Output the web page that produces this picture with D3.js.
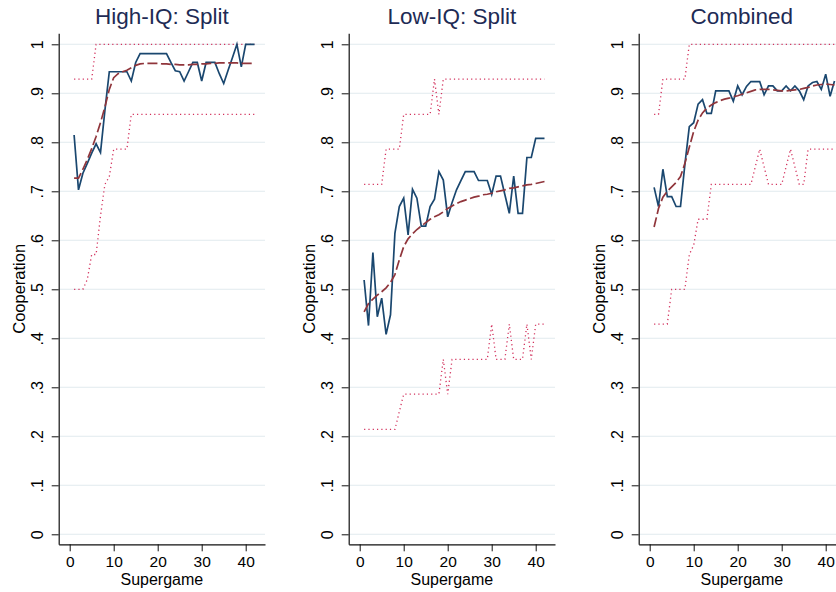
<!DOCTYPE html>
<html>
<head>
<meta charset="utf-8">
<script src="https://cdn.jsdelivr.net/npm/d3@7"></script>
<style>
  html, body { margin: 0; padding: 0; background: #fff; }
  svg { display: block; }
  text { font-family: "Liberation Sans", Arial, sans-serif; }
</style>
</head>
<body>
<svg id="chart" width="836" height="592"></svg>
<script>
// ---------------- DATA ----------------
const supergame = [1,2,3,4,5,6,7,8,9,10,11,12,13,14,15,16,17,18,19,20,21,
                   22,23,24,25,26,27,28,29,30,31,32,33,34,35,36,37,38,39,40,41,42];

const panelTitles = ["High-IQ: Split", "Low-IQ: Split", "Combined"];

// High-IQ: Split
const highCoop  = [0.815,0.703,0.737,0.757,0.778,0.797,0.779,0.865,0.944,0.944,0.944,0.944,0.944,0.925,0.963,0.981,0.981,0.981,0.981,0.981,0.981,
                   0.981,0.963,0.946,0.944,0.925,0.944,0.963,0.963,0.925,0.963,0.963,0.963,0.940,0.920,0.947,0.973,1.000,0.954,1.000,1.000,1.000];
const highFit   = [0.727,0.727,0.745,0.765,0.787,0.812,0.840,0.872,0.908,0.932,0.940,0.944,0.947,0.952,0.957,0.960,0.961,0.961,0.961,0.961,0.960,
                   0.960,0.959,0.959,0.958,0.958,0.958,0.959,0.959,0.960,0.960,0.961,0.961,0.962,0.962,0.962,0.962,0.962,0.961,0.961,0.961,0.961];
const highUpper = [0.929,0.929,0.929,0.929,0.929,1,1,1,1,1,1,1,1,1,1,1,1,1,1,1,1,
                   1,1,1,1,1,1,1,1,1,1,1,1,1,1,1,1,1,1,1,1,1];
const highLower = [0.5,0.5,0.5,0.52,0.571,0.571,0.65,0.714,0.73,0.786,0.786,0.786,0.786,0.857,0.857,0.857,0.857,0.857,0.857,0.857,0.857,
                   0.857,0.857,0.857,0.857,0.857,0.857,0.857,0.857,0.857,0.857,0.857,0.857,0.857,0.857,0.857,0.857,0.857,0.857,0.857,0.857,0.857];

// Low-IQ: Split
const lowCoop  = [0.519,0.426,0.575,0.444,0.482,0.408,0.448,0.614,0.669,0.686,0.611,0.704,0.686,0.629,0.629,0.669,0.684,0.740,0.723,0.648,0.677,
                  0.703,0.722,0.740,0.740,0.740,0.722,0.722,0.722,0.694,0.731,0.731,0.693,0.655,0.731,0.655,0.655,0.769,0.769,0.808,0.808,0.808];
const lowFit   = [0.454,0.471,0.480,0.488,0.495,0.503,0.514,0.530,0.560,0.587,0.603,0.613,0.622,0.629,0.636,0.643,0.648,0.652,0.658,0.665,0.670,
                  0.675,0.679,0.682,0.685,0.688,0.690,0.693,0.694,0.696,0.699,0.701,0.703,0.706,0.707,0.709,0.711,0.713,0.714,0.716,0.718,0.720];
const lowUpper = [0.714,0.714,0.714,0.714,0.714,0.786,0.786,0.786,0.786,0.857,0.857,0.857,0.857,0.857,0.857,0.857,0.929,0.857,0.929,0.929,0.929,
                  0.929,0.929,0.929,0.929,0.929,0.929,0.929,0.929,0.929,0.929,0.929,0.929,0.929,0.929,0.929,0.929,0.929,0.929,0.929,0.929,0.929];
const lowLower = [0.214,0.214,0.214,0.214,0.214,0.214,0.214,0.214,0.25,0.286,0.286,0.286,0.286,0.286,0.286,0.286,0.286,0.286,0.357,0.286,0.357,
                  0.357,0.357,0.357,0.357,0.357,0.357,0.357,0.357,0.429,0.357,0.357,0.357,0.429,0.357,0.357,0.357,0.429,0.357,0.429,0.429,0.429];

// Combined
const combCoop  = [0.708,0.669,0.745,0.689,0.689,0.669,0.669,0.755,0.832,0.840,0.878,0.887,0.859,0.859,0.905,0.905,0.905,0.905,0.884,0.915,0.897,
                   0.914,0.924,0.924,0.924,0.897,0.915,0.915,0.905,0.905,0.915,0.905,0.915,0.905,0.887,0.915,0.922,0.924,0.908,0.939,0.894,0.925];
const combFit   = [0.627,0.665,0.688,0.700,0.709,0.718,0.730,0.757,0.790,0.822,0.845,0.860,0.870,0.876,0.881,0.885,0.888,0.890,0.893,0.895,0.898,
                   0.901,0.904,0.907,0.908,0.908,0.908,0.907,0.906,0.905,0.905,0.906,0.907,0.908,0.910,0.912,0.915,0.917,0.918,0.919,0.918,0.917];
const combUpper = [0.857,0.857,0.929,0.929,0.929,0.929,0.929,0.929,1,1,1,1,1,1,1,1,1,1,1,1,1,
                   1,1,1,1,1,1,1,1,1,1,1,1,1,1,1,1,1,1,1,1,1];
const combLower = [0.429,0.429,0.429,0.429,0.5,0.5,0.5,0.5,0.571,0.59,0.643,0.643,0.643,0.714,0.714,0.714,0.714,0.714,0.714,0.714,0.714,
                   0.714,0.714,0.75,0.786,0.75,0.714,0.714,0.714,0.714,0.75,0.786,0.75,0.714,0.714,0.786,0.786,0.786,0.786,0.786,0.786,0.786];

const yTicks = [0, 0.1, 0.2, 0.3, 0.4, 0.5, 0.6, 0.7, 0.8, 0.9, 1];
const yTickLabels = ["0", ".1", ".2", ".3", ".4", ".5", ".6", ".7", ".8", ".9", "1"];
const xTicks = [0, 10, 20, 30, 40];
const xTitle = "Supergame";
const yTitle = "Cooperation";

// ---------------- LAYOUT ----------------
const panels = [
  { title: panelTitles[0], coop: highCoop, fit: highFit, upper: highUpper, lower: highLower },
  { title: panelTitles[1], coop: lowCoop,  fit: lowFit,  upper: lowUpper,  lower: lowLower },
  { title: panelTitles[2], coop: combCoop, fit: combFit, upper: combUpper, lower: combLower }
];
const panelStep = 290;
const plotLeft = 58.7, plotRight = 265, plotTop = 33.3, plotBottom = 544.3;
const x0px = 69.7, pxPerUnit = 4.4;
const y0px = 534.3, y1px = 44.3;

const x = d3.scaleLinear()
  .domain([(plotLeft - x0px) / pxPerUnit, (plotRight - x0px) / pxPerUnit])
  .range([plotLeft, plotRight]);
const yPerUnit = y0px - y1px;
const y = d3.scaleLinear()
  .domain([(y0px - plotBottom) / yPerUnit, (y0px - plotTop) / yPerUnit])
  .range([plotBottom, plotTop]);

const svg = d3.select("#chart");
const COL_BLUE = "#1a476f", COL_RED = "#90353b", COL_CI = "#d2305c";

panels.forEach((p, i) => {
  const g = svg.append("g").attr("transform", `translate(${i * panelStep},0)`);

  // gridlines
  g.append("g").selectAll("line").data(yTicks).join("line")
    .attr("x1", plotLeft).attr("x2", plotRight)
    .attr("y1", d => y(d)).attr("y2", d => y(d))
    .attr("stroke", "#e1eaee").attr("stroke-width", 1.1);

  const line = d3.line().x((d, j) => x(supergame[j])).y(d => y(d));

  // confidence bounds (dotted)
  [p.upper, p.lower].forEach(arr => {
    g.append("path").datum(arr)
      .attr("d", line)
      .attr("fill", "none")
      .attr("stroke", COL_CI)
      .attr("stroke-width", 1.3)
      .attr("stroke-dasharray", "1.2,3.1");
  });

  // observed cooperation
  g.append("path").datum(p.coop)
    .attr("d", line)
    .attr("fill", "none")
    .attr("stroke", COL_BLUE)
    .attr("stroke-width", 1.7)
    .attr("stroke-linejoin", "miter");

  // fitted curve (dashed)
  g.append("path").datum(p.fit)
    .attr("d", line)
    .attr("fill", "none")
    .attr("stroke", COL_RED)
    .attr("stroke-width", 1.7)
    .attr("stroke-dasharray", "10,3.5");

  // y axis
  const yAxis = g.append("g")
    .attr("transform", `translate(${plotLeft},0)`)
    .call(d3.axisLeft(y).tickValues(yTicks)
      .tickFormat((d, j) => yTickLabels[j])
      .tickSize(7).tickSizeOuter(0));
  yAxis.select(".domain").attr("stroke", "#111").attr("stroke-width", 1.2);
  yAxis.selectAll(".tick line").attr("stroke", "#111").attr("stroke-width", 1);
  yAxis.selectAll(".tick text")
    .attr("x", 0).attr("y", -15.4).attr("dy", null)
    .attr("transform", "rotate(-90)")
    .attr("text-anchor", "middle")
    .attr("fill", "#000")
    .style("font-size", "16px")
    .style("font-family", "'Liberation Sans', Arial, sans-serif");

  // x axis
  const xAxis = g.append("g")
    .attr("transform", `translate(0,${plotBottom})`)
    .call(d3.axisBottom(x).tickValues(xTicks)
      .tickFormat(d3.format("d"))
      .tickSize(7).tickSizeOuter(0));
  xAxis.select(".domain").attr("stroke", "#111").attr("stroke-width", 1.2);
  xAxis.selectAll(".tick line").attr("stroke", "#111").attr("stroke-width", 1);
  xAxis.selectAll(".tick text")
    .attr("y", 22.5).attr("dy", null)
    .attr("fill", "#000")
    .style("font-size", "15.5px")
    .style("font-family", "'Liberation Sans', Arial, sans-serif");

  // titles
  g.append("text")
    .attr("x", (plotLeft + plotRight) / 2).attr("y", 23.5)
    .attr("text-anchor", "middle")
    .attr("fill", "#1e2b55")
    .style("font-size", "22.5px")
    .text(p.title);

  g.append("text")
    .attr("x", (plotLeft + plotRight) / 2).attr("y", 584.5)
    .attr("text-anchor", "middle")
    .attr("fill", "#000")
    .style("font-size", "16px")
    .text(xTitle);

  g.append("text")
    .attr("transform", `translate(25,${(plotTop + plotBottom) / 2}) rotate(-90)`)
    .attr("text-anchor", "middle")
    .attr("fill", "#000")
    .style("font-size", "16.5px")
    .text(yTitle);
});
</script>
</body>
</html>
